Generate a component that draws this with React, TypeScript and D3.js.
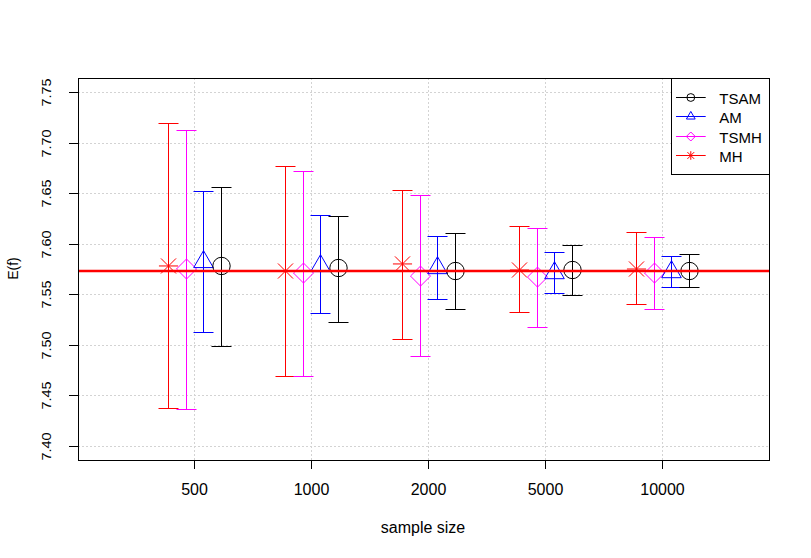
import * as d3 from 'd3';

// sample sizes on the x axis (plotted at positions 1..5)
const sampleSizes = ['500', '1000', '2000', '5000', '10000'];
const yTicks = [7.4, 7.45, 7.5, 7.55, 7.6, 7.65, 7.7, 7.75];
const trueValue = 7.573;

const methods = ['MH', 'TSMH', 'AM', 'TSAM'];
const methodOffsets = [-0.225, -0.075, 0.075, 0.225];
const methodColors = ['#FF0000', '#FF00FF', '#0000FF', '#000000'];
const methodShapes = ['asterisk', 'diamond', 'triangle', 'circle'];

// estimates and interval bounds, one value per sample size
const mhMean = [7.578, 7.573, 7.58, 7.574, 7.575];
const mhLower = [7.437, 7.469, 7.506, 7.532, 7.54];
const mhUpper = [7.719, 7.677, 7.653, 7.618, 7.612];

const tsmhMean = [7.575, 7.571, 7.568, 7.567, 7.571];
const tsmhLower = [7.436, 7.469, 7.489, 7.518, 7.535];
const tsmhUpper = [7.713, 7.672, 7.648, 7.616, 7.607];

const amMean = [7.582, 7.578, 7.576, 7.571, 7.572];
const amLower = [7.513, 7.531, 7.545, 7.551, 7.557];
const amUpper = [7.652, 7.628, 7.608, 7.592, 7.588];

const tsamMean = [7.578, 7.576, 7.573, 7.574, 7.573];
const tsamLower = [7.499, 7.523, 7.535, 7.549, 7.557];
const tsamUpper = [7.656, 7.627, 7.611, 7.599, 7.59];

const legendLabels = ['TSAM', 'AM', 'TSMH', 'MH'];
const legendColors = ['#000000', '#0000FF', '#FF00FF', '#FF0000'];
const legendShapes = ['circle', 'triangle', 'diamond', 'asterisk'];

const series = [
  { mean: mhMean, lower: mhLower, upper: mhUpper },
  { mean: tsmhMean, lower: tsmhLower, upper: tsmhUpper },
  { mean: amMean, lower: amLower, upper: amUpper },
  { mean: tsamMean, lower: tsamLower, upper: tsamUpper },
];

const W = 811;
const H = 558;
const plot = { left: 78, right: 769, top: 78, bottom: 460 };
const font = '"Liberation Sans", Arial, sans-serif';

// snap a 1px line to the pixel grid
const px = (v: number) => Math.round(v) + 0.5;

function Symbol({ shape, x, y, s, color }: { shape: string; x: number; y: number; s: number; color: string }) {
  if (shape === 'circle') return <circle cx={x} cy={y} r={s} fill="none" stroke={color} />;
  if (shape === 'triangle') {
    const r = s * 1.3;
    const pts = [
      [x, y - r],
      [x + 0.866 * r, y + r / 2],
      [x - 0.866 * r, y + r / 2],
    ];
    return <polygon points={pts.map((p) => p.join(',')).join(' ')} fill="none" stroke={color} />;
  }
  if (shape === 'diamond') {
    const d = s * 1.15;
    const pts = [
      [x, y - d],
      [x + d, y],
      [x, y + d],
      [x - d, y],
    ];
    return <polygon points={pts.map((p) => p.join(',')).join(' ')} fill="none" stroke={color} />;
  }
  const a = s * 1.1;
  const b = s * 0.87;
  const path = d3.path();
  path.moveTo(x - a, y);
  path.lineTo(x + a, y);
  path.moveTo(x, y - a);
  path.lineTo(x, y + a);
  path.moveTo(x - b, y - b);
  path.lineTo(x + b, y + b);
  path.moveTo(x - b, y + b);
  path.lineTo(x + b, y - b);
  return <path d={path.toString()} fill="none" stroke={color} />;
}

export default function App() {
  const x = d3.scaleLinear().domain([0.006, 5.912]).range([plot.left, plot.right]);
  const y = d3.scaleLinear().domain([7.386, 7.764]).range([plot.bottom, plot.top]);
  const positions = sampleSizes.map((_, i) => i + 1);
  const cap = 10;

  const legend = { left: 671.5, top: plot.top + 0.5, bottom: 174.5, rows: [97.5, 116.5, 136.5, 155.5] };

  return (
    <svg width={W} height={H} style={{ position: 'absolute', left: 0, top: 0, background: '#fff' }} fontFamily={font}>
      {/* grid */}
      {positions.map((p) => (
        <line key={`gx-${p}`} x1={px(x(p))} x2={px(x(p))} y1={plot.top} y2={plot.bottom} stroke="#D3D3D3" strokeDasharray="2 2" />
      ))}
      {yTicks.map((t) => (
        <line key={`gy-${t}`} x1={plot.left} x2={plot.right} y1={px(y(t))} y2={px(y(t))} stroke="#D3D3D3" strokeDasharray="2 2" />
      ))}

      {/* axes */}
      {positions.map((p, i) => (
        <g key={`xt-${p}`} transform={`translate(${px(x(p))},0)`}>
          <line y1={plot.bottom} y2={plot.bottom + 9} stroke="#000" />
          <text y={495} textAnchor="middle" fontSize={16}>
            {sampleSizes[i]}
          </text>
        </g>
      ))}
      {yTicks.map((t) => (
        <g key={`yt-${t}`} transform={`translate(0,${px(y(t))})`}>
          <line x1={plot.left - 9} x2={plot.left} stroke="#000" />
          <text transform="translate(51,0) rotate(-90) scale(1,0.82)" textAnchor="middle" fontSize={14.5}>
            {t.toFixed(2)}
          </text>
        </g>
      ))}
      <text x={423} y={533} textAnchor="middle" fontSize={16}>
        sample size
      </text>
      <text transform="translate(18,268.5) rotate(-90)" textAnchor="middle" fontSize={14}>
        E(f)
      </text>

      {/* error bars and estimates */}
      {series.map((s, m) => (
        <g key={methods[m]}>
          {positions.map((p, i) => {
            const cx = px(x(p + methodOffsets[m]));
            const lo = px(y(s.lower[i]));
            const hi = px(y(s.upper[i]));
            const c = methodColors[m];
            return (
              <g key={i}>
                <line x1={cx} x2={cx} y1={lo} y2={hi} stroke={c} />
                <line x1={cx - cap} x2={cx + cap} y1={lo} y2={lo} stroke={c} />
                <line x1={cx - cap} x2={cx + cap} y1={hi} y2={hi} stroke={c} />
                <Symbol shape={methodShapes[m]} x={cx} y={y(s.mean[i])} s={8.7} color={c} />
              </g>
            );
          })}
        </g>
      ))}

      <line x1={plot.left} x2={plot.right} y1={y(trueValue)} y2={y(trueValue)} stroke="#FF0000" strokeWidth={2.5} />

      <rect
        x={plot.left + 0.5}
        y={plot.top + 0.5}
        width={plot.right - plot.left}
        height={plot.bottom - plot.top}
        fill="none"
        stroke="#000"
      />

      {/* legend */}
      <rect
        x={legend.left}
        y={legend.top}
        width={plot.right + 0.5 - legend.left}
        height={legend.bottom - legend.top}
        fill="#fff"
        stroke="#000"
      />
      {legendLabels.map((lab, i) => (
        <g key={lab}>
          <line x1={676} x2={705.7} y1={legend.rows[i]} y2={legend.rows[i]} stroke={legendColors[i]} />
          <Symbol shape={legendShapes[i]} x={690.8} y={legend.rows[i]} s={3.9} color={legendColors[i]} />
          <text x={719.3} y={legend.rows[i] + 6} fontSize={15}>
            {lab}
          </text>
        </g>
      ))}
    </svg>
  );
}
